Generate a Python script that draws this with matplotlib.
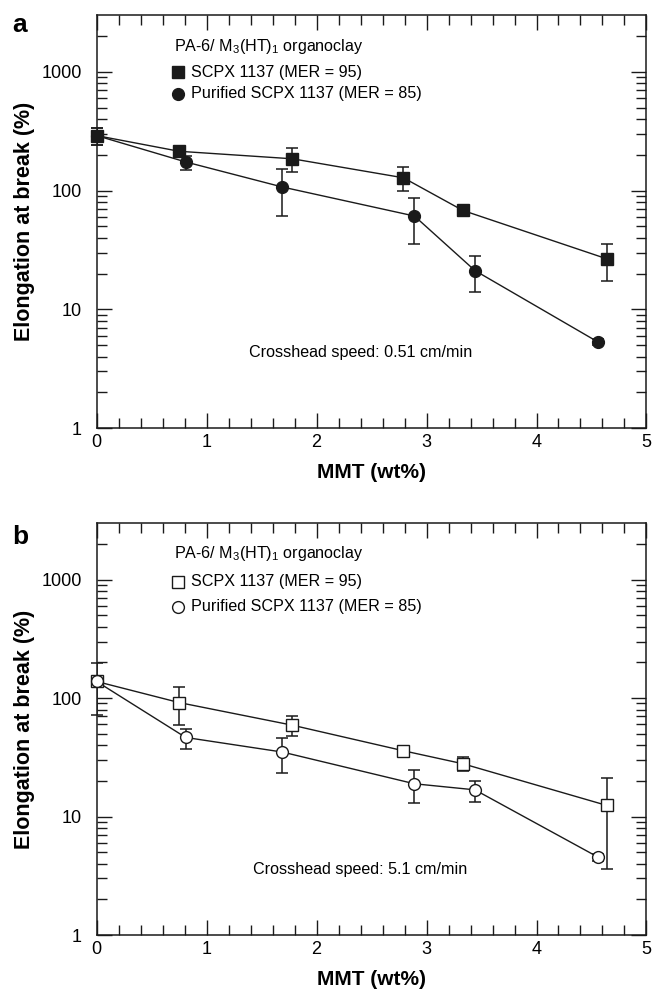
import numpy as np
import matplotlib
matplotlib.use("Agg")
import matplotlib.pyplot as plt
from matplotlib.ticker import FixedLocator, MultipleLocator, NullFormatter

plt.rcParams['font.family'] = ['Liberation Sans', 'DejaVu Sans']
plt.rcParams['mathtext.fontset'] = 'custom'
plt.rcParams['mathtext.rm'] = 'Liberation Sans'
plt.rcParams['mathtext.it'] = 'Liberation Sans:italic'

# ---- data ----
# panel a: crosshead speed 0.51 cm/min
a_sq_x = [0.0, 0.75, 1.78, 2.79, 3.33, 4.64]
a_sq_y = [290, 214, 185, 128, 68, 26.6]
a_sq_lo = [242, 195, 144, 99, 65, 17.4]
a_sq_hi = [336, 232, 226, 157, 71, 35.5]

a_ci_x = [0.0, 0.81, 1.69, 2.89, 3.44, 4.56]
a_ci_y = [290, 174, 107, 61, 21.2, 5.3]
a_ci_lo = [242, 150, 61, 35.5, 14, 5.0]
a_ci_hi = [336, 195, 153, 86, 28, 5.6]

# panel b: crosshead speed 5.1 cm/min
b_sq_x = [0.0, 0.75, 1.78, 2.79, 3.33, 4.64]
b_sq_y = [138, 91.6, 59, 35.9, 27.9, 12.4]
b_sq_lo = [72, 59, 48, 33, 24.4, 3.64]
b_sq_hi = [199, 125, 70, 38, 31.6, 21.1]

b_ci_x = [0.0, 0.81, 1.69, 2.89, 3.44, 4.56]
b_ci_y = [138, 46.5, 35, 18.9, 16.8, 4.54]
b_ci_lo = [130, 37.3, 23.3, 13, 13.3, 4.25]
b_ci_hi = [146, 55.3, 45.9, 24.8, 20, 4.85]

ytick_vals = [1, 10, 100, 1000]
ytick_labels = ['1', '10', '100', '1000']
legend_title = 'PA-6/ M$_3$(HT)$_1$ organoclay'
legend_labels = ['SCPX 1137 (MER = 95)', 'Purified SCPX 1137 (MER = 85)']

fig = plt.figure(figsize=(6.53, 9.91), dpi=100)
ax_a = fig.add_axes([0.148, 0.568, 0.842, 0.4168])
ax_b = fig.add_axes([0.148, 0.0565, 0.842, 0.4157])

ink = '#1a1a1a'
txt_size = 11.6


def draw_series(ax, x, y, lo, hi, marker, filled):
    y = np.array(y)
    err = [y - np.array(lo), np.array(hi) - y]
    ax.errorbar(x, y, yerr=err, fmt='none', ecolor=ink, elinewidth=1.1,
                capsize=4.5, capthick=1.1, zorder=2)
    ax.plot(x, y, '-', color=ink, lw=1.0, zorder=3)
    ax.plot(x, y, marker, ls='none', ms=8.5 if marker == 'o' else 8,
            mfc=ink if filled else 'white', mec=ink, mew=1.0, zorder=4)


def setup(ax, speed_text, speed_y, title_y, entry_y, filled):
    ax.set_yscale('log')
    ax.set_xlim(0, 5)
    ax.set_ylim(1, 3000)
    ax.yaxis.set_major_locator(FixedLocator(ytick_vals))
    ax.set_yticklabels(ytick_labels)
    minors = [m * d for d in ytick_vals for m in range(2, 10) if m * d < 3000]
    ax.yaxis.set_minor_locator(FixedLocator(minors))
    ax.yaxis.set_minor_formatter(NullFormatter())
    ax.xaxis.set_major_locator(MultipleLocator(1))
    ax.xaxis.set_minor_locator(MultipleLocator(0.2))
    ax.tick_params(which='both', direction='in', top=True, right=True,
                   color=ink, width=1.0, labelsize=13)
    ax.tick_params(axis='x', pad=4)
    ax.tick_params(axis='y', pad=10.5)
    ax.tick_params(which='major', length=10.5)
    ax.tick_params(which='minor', length=7)
    for s in ax.spines.values():
        s.set_linewidth(1.1)
        s.set_color(ink)
    ax.set_xlabel('MMT (wt%)', fontsize=15, fontweight='bold', labelpad=9)
    ax.set_ylabel('Elongation at break (%)', fontsize=15.5, fontweight='bold', labelpad=5)
    ax.text(2.40, speed_y, speed_text, fontsize=txt_size, ha='center', va='center')

    # legend drawn as text + markers in data coordinates
    ax.text(0.70, title_y, legend_title, fontsize=txt_size, ha='left', va='center')
    fc = ink if filled else 'white'
    ax.plot([0.74], [entry_y[0]], 's', ms=8, mfc=fc, mec=ink, mew=1.0)
    ax.plot([0.74], [entry_y[1]], 'o', ms=8.5, mfc=fc, mec=ink, mew=1.0)
    ax.text(0.86, entry_y[0], legend_labels[0], fontsize=txt_size, ha='left', va='center')
    ax.text(0.86, entry_y[1], legend_labels[1], fontsize=txt_size, ha='left', va='center')


draw_series(ax_a, a_sq_x, a_sq_y, a_sq_lo, a_sq_hi, 's', True)
draw_series(ax_a, a_ci_x, a_ci_y, a_ci_lo, a_ci_hi, 'o', True)
setup(ax_a, 'Crosshead speed: 0.51 cm/min', 4.37, 1645, [993, 653], True)

draw_series(ax_b, b_sq_x, b_sq_y, b_sq_lo, b_sq_hi, 's', False)
draw_series(ax_b, b_ci_x, b_ci_y, b_ci_lo, b_ci_hi, 'o', False)
setup(ax_b, 'Crosshead speed: 5.1 cm/min', 3.57, 1656, [956, 589], False)

# panel letters
fig.text(20 / 653, 1 - 25 / 991, 'a', fontsize=19, fontweight='bold', ha='center', va='center')
fig.text(20 / 653, 1 - 537 / 991, 'b', fontsize=19, fontweight='bold', ha='center', va='center')

for ax in (ax_a, ax_b):
    for ln in ax.lines:
        ln.set_clip_on(False)

fig.savefig('out.png', dpi=100)
